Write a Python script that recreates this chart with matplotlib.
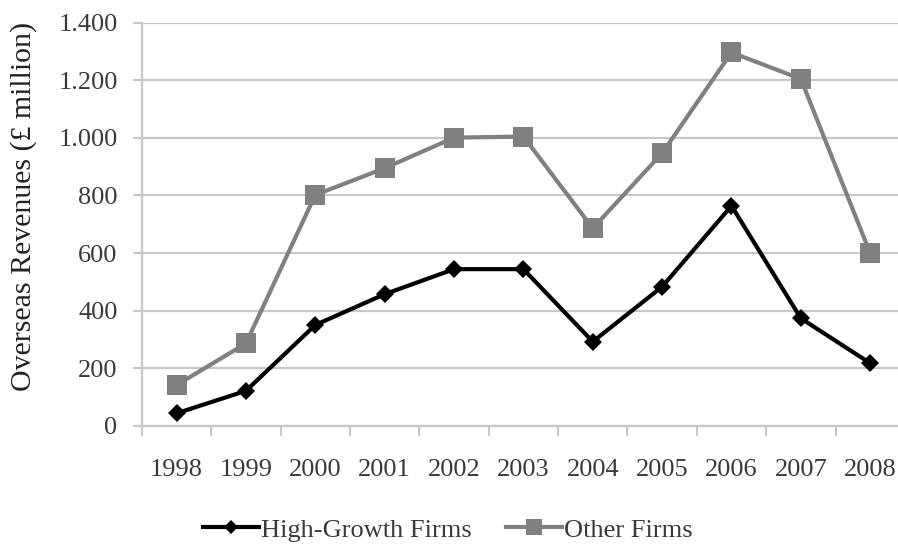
import matplotlib
matplotlib.use("Agg")
import matplotlib.pyplot as plt
from matplotlib.ticker import FuncFormatter

years = ["1998", "1999", "2000", "2001", "2002", "2003", "2004", "2005", "2006", "2007", "2008"]
high_growth = [43, 121, 350, 457, 544, 544, 292, 483, 764, 373, 217]
other_firms = [141, 286, 802, 895, 1001, 1005, 686, 947, 1297, 1205, 599]
y_ticks = [0, 200, 400, 600, 800, 1000, 1200, 1400]

plt.rcParams["font.family"] = ["Liberation Serif", "DejaVu Serif"]
text_col = "#3a3a3a"
grid_col = "#c8c8c8"

fig = plt.figure(figsize=(8.98, 5.44), dpi=100)
ax = fig.add_axes([0.158, 0.2175, 0.8497, 0.7405])

x = list(range(len(years)))
ax.plot(x, other_firms, color="#808080", lw=3.0, marker="s", ms=14,
        markeredgewidth=0, label="Other Firms", zorder=3)
ax.plot(x, high_growth, color="#000000", lw=3.0, marker="D", ms=9.5,
        markeredgewidth=0, label="High-Growth Firms", zorder=4)

ax.set_xlim(-0.5, len(years) - 0.5)
ax.set_ylim(0, 1400)
ax.set_yticks(y_ticks)
ax.yaxis.set_major_formatter(FuncFormatter(lambda v, p: f"{int(v):,}".replace(",", ".")))
ax.grid(axis="y", color=grid_col, lw=1.6, zorder=0)
ax.set_axisbelow(True)

ax.set_xticks(x)
ax.set_xticklabels(years)
ax.set_xticks([i - 0.5 for i in range(len(years) + 1)], minor=True)
ax.tick_params(axis="x", which="major", length=0, pad=24, labelsize=19, labelcolor=text_col)
ax.tick_params(axis="x", which="minor", length=7, width=1.5, color=grid_col, direction="out")
ax.tick_params(axis="y", which="major", length=6.5, width=1.6, color=grid_col, pad=11,
               labelsize=19, labelcolor=text_col)

for side in ("top", "right"):
    ax.spines[side].set_visible(False)
for side in ("left", "bottom"):
    ax.spines[side].set_color(grid_col)
    ax.spines[side].set_linewidth(1.6)

fig.text(0.026, 0.62, "Overseas Revenues (£ million)", rotation=90, ha="center", va="center",
         fontsize=21.5, color="#222222")

handles, labels = ax.get_legend_handles_labels()
fig.legend(handles[::-1], labels[::-1], loc="center", bbox_to_anchor=(0.499, 0.026), ncol=2,
           frameon=False, fontsize=19, handlelength=2.1, handletextpad=0.1, columnspacing=1.3,
           labelcolor=text_col, markerscale=0.8)

fig.savefig("out.png", dpi=100)
